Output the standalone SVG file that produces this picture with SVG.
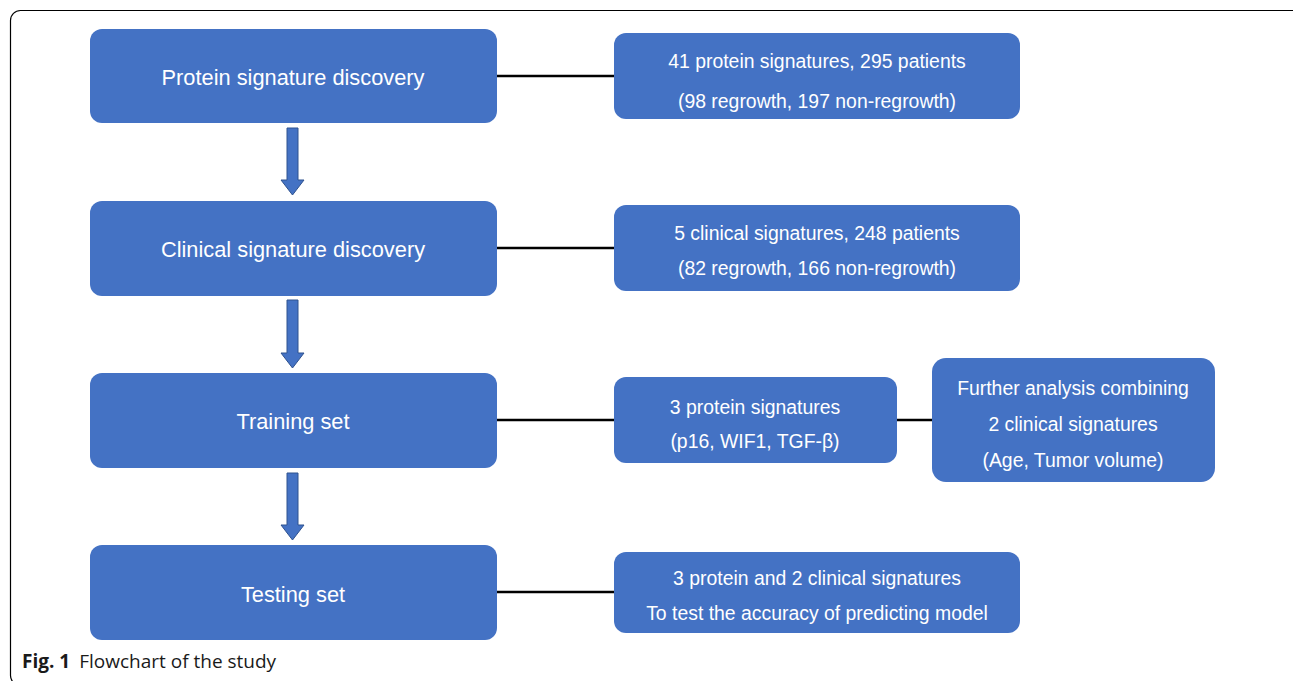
<svg xmlns="http://www.w3.org/2000/svg" width="1293" height="681" viewBox="0 0 1293 681">
<defs>
<style>
.box{fill:#4472C4;}
.lt{font-family:"Liberation Sans",Arial,sans-serif;font-size:21.8px;fill:#ffffff;text-anchor:middle;dominant-baseline:central;}
.rt{font-family:"Liberation Sans",Arial,sans-serif;font-size:19.4px;fill:#ffffff;text-anchor:middle;dominant-baseline:central;}
.conn{stroke:#000;stroke-width:2.5;fill:none;}
.arr{fill:#4472C4;stroke:#2F528F;stroke-width:1;}
</style>
</defs>
<rect x="10.5" y="10.5" width="1292" height="675" rx="10" fill="#fff" stroke="#000" stroke-width="1.2"/>
<g id="connectors">
<line class="conn" x1="497" y1="76" x2="614" y2="76"/>
<line class="conn" x1="497" y1="248" x2="614" y2="248"/>
<line class="conn" x1="497" y1="420" x2="614" y2="420"/>
<line class="conn" x1="897" y1="420" x2="932" y2="420"/>
<line class="conn" x1="497" y1="592" x2="614" y2="592"/>
<path class="arr" d="M287,128 H298 V180 H304 L292.5,195 L281,180 H287 Z"/>
<path class="arr" d="M287,300 H298 V353 H304 L292.5,368 L281,353 H287 Z"/>
<path class="arr" d="M287,473 H298 V525 H304 L292.5,540 L281,525 H287 Z"/>
</g>
<g id="n1"><rect class="box" x="90" y="29" width="407" height="94" rx="12"/><text class="lt" x="293" y="77">Protein signature discovery</text></g>
<g id="n2"><rect class="box" x="90" y="201" width="407" height="95" rx="12"/><text class="lt" x="293" y="249">Clinical signature discovery</text></g>
<g id="n3"><rect class="box" x="90" y="373" width="407" height="95" rx="12"/><text class="lt" x="293" y="421">Training set</text></g>
<g id="n4"><rect class="box" x="90" y="545" width="407" height="95" rx="12"/><text class="lt" x="293" y="594">Testing set</text></g>
<g id="r1"><rect class="box" x="614" y="33" width="406" height="86" rx="12"/><text class="rt" x="817" y="61">41 protein signatures, 295 patients</text><text class="rt" x="817" y="101">(98 regrowth, 197 non-regrowth)</text></g>
<g id="r2"><rect class="box" x="614" y="205" width="406" height="86" rx="12"/><text class="rt" x="817" y="233">5 clinical signatures, 248 patients</text><text class="rt" x="817" y="268">(82 regrowth, 166 non-regrowth)</text></g>
<g id="r3"><rect class="box" x="614" y="377" width="283" height="86" rx="12"/><text class="rt" x="755" y="407">3 protein signatures</text><text class="rt" x="755" y="441">(p16, WIF1, TGF-β)</text></g>
<g id="r4"><rect class="box" x="932" y="358" width="283" height="124" rx="14"/><text class="rt" x="1073" y="388">Further analysis combining</text><text class="rt" x="1073" y="424">2 clinical signatures</text><text class="rt" x="1073" y="460">(Age, Tumor volume)</text></g>
<g id="r5"><rect class="box" x="614" y="552" width="406" height="81" rx="12"/><text class="rt" x="817" y="578">3 protein and 2 clinical signatures</text><text class="rt" x="817" y="613">To test the accuracy of predicting model</text></g>
<text x="22" y="668" font-family="'Open Sans','Noto Sans',sans-serif" font-size="19" fill="#1a1a1a"><tspan font-weight="bold">Fig. 1</tspan><tspan dx="9">Flowchart of the study</tspan></text>
</svg>
